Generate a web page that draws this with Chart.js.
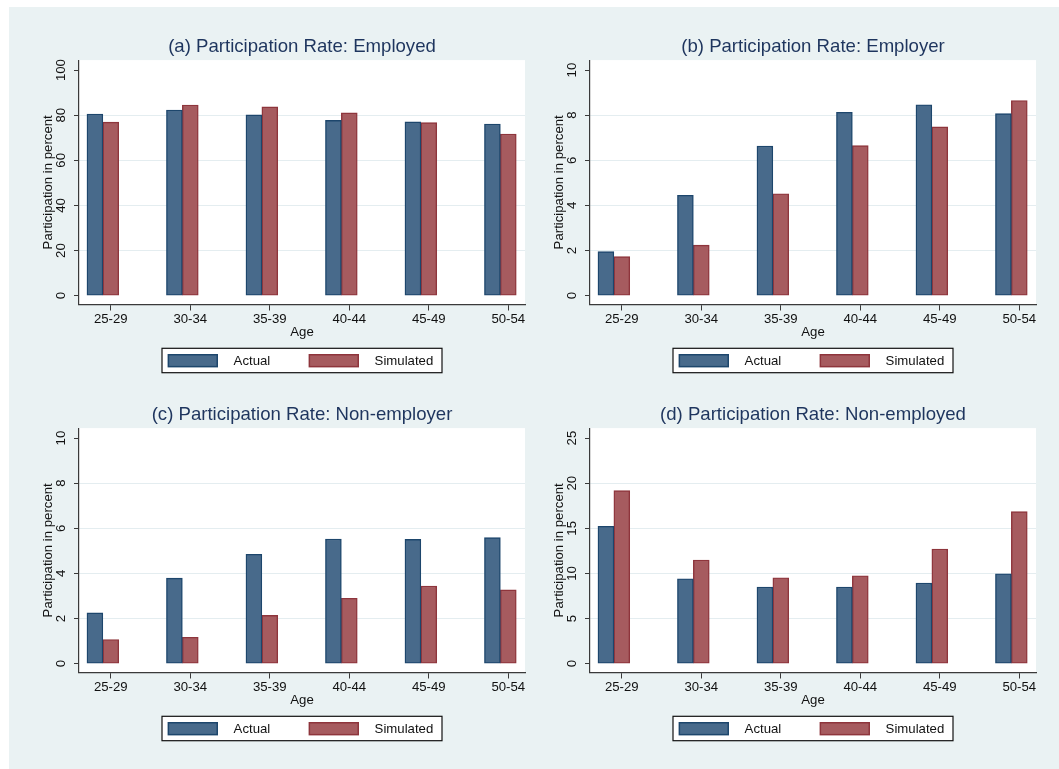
<!DOCTYPE html>
<html>
<head>
<meta charset="utf-8">
<script src="https://cdn.jsdelivr.net/npm/chart.js@4.4.1/dist/chart.umd.min.js"></script>
<style>
  html, body { margin: 0; padding: 0; background: #ffffff; width: 1059px; height: 769px; overflow: hidden; }
  #figure { position: absolute; left: 9px; top: 7px; width: 1050px; height: 762px; background: #eaf2f3; }
  canvas { position: absolute; }
</style>
</head>
<body>
<div id="figure"></div>
<canvas id="panelA" width="521" height="368" style="left:9px;top:7px"></canvas>
<canvas id="panelB" width="529" height="368" style="left:530px;top:7px"></canvas>
<canvas id="panelC" width="521" height="368" style="left:9px;top:375px"></canvas>
<canvas id="panelD" width="529" height="368" style="left:530px;top:375px"></canvas>
<script>
// Age groups on the horizontal axis
const ageGroups = ['25-29', '30-34', '35-39', '40-44', '45-49', '50-54'];

// Participation rates in percent, by age group
const employedActual       = [80.5, 82.3, 80.1, 77.7, 77.0, 76.1];
const employedSimulated    = [76.9, 84.5, 83.7, 81.0, 76.7, 71.6];
const employerActual       = [1.95, 4.45, 6.63, 8.13, 8.46, 8.07];
const employerSimulated    = [1.73, 2.24, 4.52, 6.65, 7.48, 8.65];
const nonEmployerActual    = [2.25, 3.79, 4.85, 5.52, 5.51, 5.59];
const nonEmployerSimulated = [1.07, 1.17, 2.14, 2.90, 3.44, 3.27];
const nonEmployedActual    = [15.23, 9.41, 8.49, 8.49, 8.93, 9.96];
const nonEmployedSimulated = [19.18, 11.49, 9.52, 9.74, 12.70, 16.84];

// Vertical axis tick labels for each panel
const employedTicks    = [0, 20, 40, 60, 80, 100];
const employerTicks    = [0, 2, 4, 6, 8, 10];
const nonEmployerTicks = [0, 2, 4, 6, 8, 10];
const nonEmployedTicks = [0, 5, 10, 15, 20, 25];

const seriesNames = ['Actual', 'Simulated'];

const FAMILY = '"Liberation Sans", Arial, Helvetica, sans-serif';
const TEXT = '#111111';
const TITLE_COLOR = '#1e355e';
const AXIS = '#3a3a3a';
const GRID = '#e4edf0';
const ACTUAL_FILL = '#486a8b';
const ACTUAL_EDGE = '#1d466c';
const SIM_FILL = '#a65b5f';
const SIM_EDGE = '#8e353c';
// actual bars sit one bar width left of the age tick, simulated bars on it
const ACTUAL_SHIFT = -0.2;

// white plot region
const plotBackground = {
  id: 'plotBackground',
  beforeDraw(chart) {
    const { ctx, chartArea: a } = chart;
    ctx.save();
    ctx.fillStyle = '#ffffff';
    ctx.fillRect(a.left, a.top, a.right - a.left, a.bottom - a.top);
    ctx.restore();
  }
};

// vertical tick labels on the y axis, reading bottom to top
const rotatedYLabels = {
  id: 'rotatedYLabels',
  afterDraw(chart) {
    const { ctx, chartArea } = chart;
    const scale = chart.scales.y;
    ctx.save();
    ctx.fillStyle = TEXT;
    ctx.font = '13.2px ' + FAMILY;
    ctx.textAlign = 'center';
    ctx.textBaseline = 'middle';
    scale.ticks.forEach(t => {
      const py = scale.getPixelForValue(t.value);
      ctx.save();
      ctx.translate(chartArea.left - 17.5, py);
      ctx.rotate(-Math.PI / 2);
      ctx.fillText(String(t.value), 0, 0);
      ctx.restore();
    });
    ctx.restore();
  }
};

// framed legend under the axis
const framedLegend = {
  id: 'framedLegend',
  afterDraw(chart) {
    const { ctx, chartArea } = chart;
    const w = 280, h = 24.4;
    const x0 = (chartArea.left + chartArea.right) / 2 - w / 2;
    const y0 = chartArea.bottom + 43.8;
    ctx.save();
    ctx.fillStyle = '#ffffff';
    ctx.fillRect(x0, y0, w, h);
    ctx.strokeStyle = '#111111';
    ctx.lineWidth = 1.2;
    ctx.strokeRect(x0, y0, w, h);
    ctx.font = '13.2px ' + FAMILY;
    ctx.textAlign = 'left';
    ctx.textBaseline = 'middle';
    chart.data.datasets.forEach((ds, i) => {
      const kx = x0 + 5.6 + i * 141;
      const ky = y0 + 5.7;
      ctx.fillStyle = ds.borderColor;
      ctx.fillRect(kx, ky, 50.4, 13.4);
      ctx.fillStyle = ds.backgroundColor;
      ctx.fillRect(kx + 1.5, ky + 1.5, 47.4, 10.4);
      ctx.fillStyle = TEXT;
      ctx.fillText(ds.label, kx + 66, y0 + h / 2 + 0.5);
    });
    ctx.restore();
  }
};

function drawPanel(canvasId, title, actual, simulated, yTicks, yWidth, padRight) {
  const top = yTicks[yTicks.length - 1];
  const yMin = -top * 0.039;
  const yMax = top * 1.044;
  new Chart(document.getElementById(canvasId), {
    type: 'bar',
    data: {
      datasets: [
        {
          label: seriesNames[0],
          data: ageGroups.map((g, i) => ({ x: i + 1 + ACTUAL_SHIFT, y: actual[i] })),
          backgroundColor: ACTUAL_FILL,
          borderColor: ACTUAL_EDGE,
          borderWidth: 1.4,
          borderSkipped: false
        },
        {
          label: seriesNames[1],
          data: ageGroups.map((g, i) => ({ x: i + 1, y: simulated[i] })),
          backgroundColor: SIM_FILL,
          borderColor: SIM_EDGE,
          borderWidth: 1.4,
          borderSkipped: false
        }
      ]
    },
    options: {
      responsive: false,
      animation: false,
      devicePixelRatio: 1,
      grouped: false,
      categoryPercentage: 1,
      barPercentage: 1,
      layout: { padding: { top: 28.6, right: padRight, bottom: 0, left: 0 } },
      plugins: {
        legend: { display: false },
        tooltip: { enabled: false },
        title: {
          display: true,
          text: title,
          fullSize: false,
          color: TITLE_COLOR,
          font: { family: FAMILY, size: 18.6, weight: 'normal' },
          padding: { top: 0, bottom: 2.2 }
        }
      },
      scales: {
        x: {
          type: 'linear',
          min: 0.6,
          max: 6.21,
          offset: false,
          afterBuildTicks: s => { s.ticks = ageGroups.map((g, i) => ({ value: i + 1 })); },
          afterFit: s => { s.height = 70.5; },
          grid: { offset: false, drawOnChartArea: false, drawTicks: true, tickLength: 6, tickColor: AXIS, lineWidth: 1 },
          border: { display: true, color: AXIS, width: 1.2 },
          ticks: {
            autoSkip: false, maxRotation: 0, minRotation: 0, padding: 1,
            color: TEXT, font: { family: FAMILY, size: 13.2 },
            callback: v => ageGroups[Math.round(v) - 1]
          },
          title: {
            display: true, text: 'Age', color: TEXT,
            font: { family: FAMILY, size: 13.2 },
            padding: { top: 0, bottom: 34.3 }
          }
        },
        y: {
          type: 'linear',
          min: yMin,
          max: yMax,
          afterBuildTicks: s => { s.ticks = yTicks.map(v => ({ value: v })); },
          afterFit: s => { s.width = yWidth; },
          grid: {
            color: c => (c.tick && c.tick.value > yTicks[0] && c.tick.value < top) ? GRID : 'rgba(0,0,0,0)',
            tickColor: AXIS, tickLength: 5, lineWidth: 1, drawTicks: true
          },
          border: { display: true, color: AXIS, width: 1.2 },
          ticks: { display: false },
          title: {
            display: true, text: 'Participation in percent', color: TEXT,
            font: { family: FAMILY, size: 13.2 },
            padding: { top: yWidth - 31 - 8, bottom: 0 }
          }
        }
      }
    },
    plugins: [plotBackground, rotatedYLabels, framedLegend]
  });
}

drawPanel('panelA', '(a) Participation Rate: Employed', employedActual, employedSimulated, employedTicks, 70, 5);
drawPanel('panelB', '(b) Participation Rate: Employer', employerActual, employerSimulated, employerTicks, 60, 23);
drawPanel('panelC', '(c) Participation Rate: Non-employer', nonEmployerActual, nonEmployerSimulated, nonEmployerTicks, 70, 5);
drawPanel('panelD', '(d) Participation Rate: Non-employed', nonEmployedActual, nonEmployedSimulated, nonEmployedTicks, 60, 23);
</script>
</body>
</html>
